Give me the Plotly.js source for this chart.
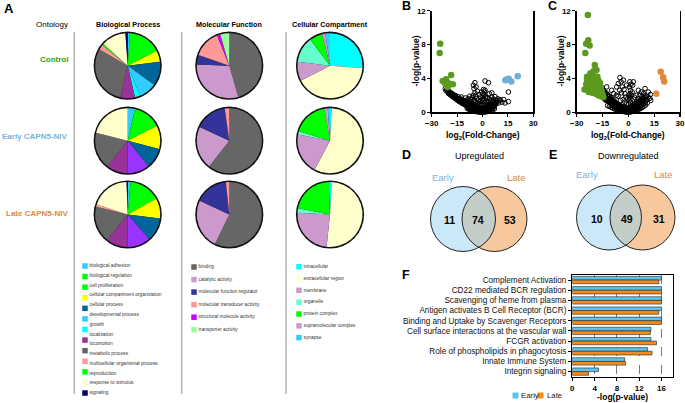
<!DOCTYPE html>
<html><head><meta charset="utf-8">
<script src="https://cdn.plot.ly/plotly-3.0.1.min.js"></script>
<style>html,body{margin:0;padding:0;background:#fff;}#chart{width:685px;height:403px;}</style>
</head><body><div id="chart"></div>
<script>
// ---------------- DATA ----------------
// Panel A: GO ontology pies (slice sizes in degrees)
const bpCategories = ['biological adhesion','biological regulation','cell proliferation','cellular compartment organization','cellular process','developmental process','growth','localization','locomotion','metabolic process','multicellular organismal process','reproduction','response to stimulus','signaling'];
const bpColors = ['#33CCFF','#00FF00','#00FF00','#FFFF00','#006699','#33CCFF','#00FFFF','#9933FF','#993399','#666666','#FF9999','#00FF00','#FFFFCC','#000066'];
const bpLegendColors = ['#33CCFF','#00FF00','#00FF00','#FFFF00','#006699','#33CCFF','#00FFFF','#993399','#666666','#FF9999','#00FF00','#FFFFCC','#000066'];
const bpControl = [4,59,0,20,43,32,9,0,26,107,9,3,44,4];
const bpEarly   = [13,50,0,42,36,0,0,39,38,66,0,0,76,0];
const bpLate    = [5,56,0,36,42,0,0,41,39,65,4,0,70,2];

const mfCategories = ['binding','catalytic activity','molecular function regulator','molecular transducer activity','structural molecule activity','transporter activity'];
const mfColors = ['#666666','#CC99CC','#333399','#FF9999','#CC00FF','#99FF99'];
const mfControl = [164,108,17,49,6,16];
const mfEarly   = [218,77,57,8,0,0];
const mfLate    = [206,89,59,6,0,0];

const ccCategories = ['intracellular','extracellular region','membrane','organelle','protein complex','supramolecular complex','synapse'];
const ccColors = ['#00FFFF','#FFFFCC','#CC99CC','#66FFCC','#00FF00','#CC99CC','#33CCFF'];
const ccControl = [94,149,34,46,23,6,8];
const ccEarly   = [3,205,73,6,63,6,4];
const ccLate    = [3,183,87,8,77,0,2];

const ontologyHeaders = ['Biological Process','Molecular Function','Cellular Compartment'];
const conditionLabels = ['Control','Early CAPN5-NIV','Late CAPN5-NIV'];

// Panel B: volcano, early (log2FC, -log p)
const volcB_down = [[-25,8.1],[-25.3,7.0],[-23.5,3.7],[-21.5,3.9],[-18.5,4.4],[-20.5,3.5],[-19.5,3.3],[-17.5,3.3],[-20.5,3.0],[-22,3.4]];
const volcB_up = [[13.5,3.8],[14.5,3.9],[15.5,3.95],[17,3.65],[20.8,4.25]];
const volcB_ns = [
[-22,2.8],[-21.5,2.55],[-21,2.7],[-20.5,2.4],[-20,2.2],[-19.5,2.35],[-19,2.05],[-18.5,2.2],[-18,1.9],[-17.5,2.0],[-17,1.75],[-16.5,1.85],[-16,1.6],[-15.5,1.7],[-15,1.45],[-14.5,1.55],[-14,1.3],[-13.5,1.4],[-13,1.2],[-12.5,1.25],[-12,1.05],[-11.5,1.15],[-11,0.95],[-10.5,1.0],[-10,0.85],[-9.5,0.9],[-9,0.75],[-8.5,0.8],[-8,0.65],[-7.5,0.7],[-7,0.55],[-6.5,0.6],[-6,0.45],[-5.5,0.5],[-5,0.38],[-4.5,0.4],[-4,0.3],[-3.5,0.32],[-3,0.22],[-2.5,0.25],[-2,0.15],[-1.5,0.18],[-1,0.1],[-0.5,0.12],[0,0.05],[0.5,0.08],[1,0.12],[1.5,0.15],[2,0.2],[2.5,0.22],[3,0.3],[3.5,0.33],[4,0.42],[4.5,0.45],[5,0.55],[5.5,0.6],[6,0.7],[6.5,0.75],[7,0.85],[7.5,0.95],[8,1.0],
[-9,0.45],[-8,0.35],[-7,0.28],[-6,0.2],[-5,0.15],[-4,0.1],[-3,0.06],[-2,0.04],[-1,0.02],[1,0.03],[2,0.06],[3,0.1],[4,0.15],[5,0.22],[6,0.3],[7,0.4],
[-10.5,1.3],[-9.5,1.15],[-8.5,1.05],[-7.5,0.95],[-6.5,0.85],[-5.5,0.75],[-4.5,0.65],[-3.5,0.55],[-2.5,0.45],[-1.5,0.35],[-0.5,0.3],[0.5,0.35],[1.5,0.45],[2.5,0.5],[3.5,0.6],[4.5,0.7],[5.5,0.85],[6.5,1.0],
[-13,1.6],[-12,1.5],[-11,1.4],[-9,1.35],[-8,1.25],[-7,1.2],[-6,1.05],[-5,0.95],[-4,0.85],[-3,0.75],[-2,0.6],[-1,0.5],[0,0.45],
[-16,2.0],[-14.5,1.85],[-12.5,1.8],[-10,1.7],[-8.5,1.6],[-7,1.5],[-6,1.75],[-5,1.4],[-4,1.25],[-3,1.1],[-2,0.95],[-1,0.85],
[-7.5,1.9],[-5.5,2.0],[-4.5,2.3],[-4,1.9],[-3.5,1.6],[-2.5,1.45],[-1.5,1.3],[-5,2.8],[-4.5,3.5],[-5.4,3.2],[-3.8,3.0],[-3,2.5],[-2,2.1],[-1.2,1.8],
[0.2,0.9],[0.5,1.3],[0.8,1.6],[1,2.0],[1.2,2.4],[0.6,2.7],[1.5,2.6],[0.3,2.2],[1.8,1.8],[1.1,1.1],[0.4,1.9],[-0.3,1.5],[-0.5,2.4],[1.4,0.8],[0.9,0.6],[2.2,1.3],[2.6,1.7],
[1.5,3.7],[3.5,3.5],
[3,0.95],[3.5,1.25],[4,1.6],[4.5,1.1],[5,1.4],[5.5,1.8],[6,1.3],[6.5,1.55],[7,1.2],[7.4,1.85],[8,1.45],[8.5,1.3],[9,1.6],[10,1.35],[10.4,1.5],[11.5,1.2],[13.3,1.1],[15.3,1.26],[15.3,2.4],[12.5,1.5],[9.5,1.1],[4,2.2],[5.5,2.3],
[-8.8,0.6],[-8.2,0.55],[-7.8,0.5],[-7.2,0.45],[-6.8,0.4],[-6.2,0.35],[-5.8,0.3],[-5.2,0.28],[-4.8,0.25],[-4.2,0.2],[-3.8,0.18],[-3.2,0.15],[-2.8,0.12],[-2.2,0.1],[-1.8,0.08],[-1.2,0.06],[-0.8,0.05],[-0.2,0.04],[0.2,0.04],[0.8,0.06],[1.2,0.08],[1.8,0.1],[2.2,0.14],[2.8,0.18],[3.2,0.22],[3.8,0.28],[4.2,0.32],[4.8,0.38],[5.2,0.45],[5.8,0.5],[6.2,0.58],[6.8,0.65],
[-9.8,0.95],[-9.2,0.85],[-8.8,0.9],[-8.2,0.8],[-7.8,0.78],[-7.2,0.7],[-6.8,0.68],[-6.2,0.62],[-5.8,0.55],[-5.2,0.5],[-4.8,0.48],[-4.2,0.42],[-3.8,0.4],[-3.2,0.35],[-2.8,0.32],[-2.2,0.28],[-1.8,0.25],[-1.2,0.22],[-0.8,0.2],[-0.2,0.18],[0.2,0.2],[0.8,0.22],[1.2,0.28],[1.8,0.3],[2.2,0.35],[2.8,0.4],[3.2,0.45],[3.8,0.5],[4.2,0.55],[4.8,0.62],[5.2,0.68],[5.8,0.75],[6.2,0.8],[6.8,0.88],
[-11.8,1.2],[-11.2,1.1],[-10.8,1.15],[-10.2,1.05],[-9.8,1.1],[-9.2,1.0],[-8.8,1.0],[-8.2,0.95],[-7.8,0.9],[-7.2,0.85],[-6.8,0.8],[-6.2,0.75],[-5.8,0.7],[-5.2,0.65],[-4.8,0.6],[-4.2,0.58],[-3.8,0.55],[-3.2,0.5],[-2.8,0.48],[-2.2,0.45],[-1.8,0.4],[-1.2,0.38],[-0.8,0.35],[-0.2,0.32],[0.2,0.38],[0.8,0.42],[1.2,0.48],[1.8,0.55],[2.2,0.6],[2.8,0.65],[3.2,0.7],[3.8,0.75],[4.2,0.8],[4.8,0.9],
[-15.8,1.75],[-15.2,1.6],[-14.8,1.65],[-14.2,1.45],[-13.8,1.5],[-13.2,1.35],[-12.8,1.4],[-12.2,1.25],[-18.8,2.3],[-18.2,2.1],[-17.8,2.2],[-17.2,1.95],[-16.8,2.0],[-16.2,1.8],[-20.8,2.6],[-20.2,2.45],[-19.8,2.5],[-19.2,2.25]];

// Panel C: volcano, late
const volcC_down = [[-23.5,11.5],[-23.3,8.5],[-24.5,8.1],[-22.5,7.9],[-25,7.0],[-19.5,5.6],[-18.5,5.0],[-21,4.5],[-22.5,4.2],[-20,4.3],[-18,4.2],[-24,3.9],[-23,3.7],[-21.5,3.8],[-20.5,3.6],[-19,3.7],[-17.5,3.8],[-16.5,3.5],[-24.5,3.3],[-23,3.2],[-22,3.4],[-21,3.1],[-20,3.2],[-19,3.0],[-18,3.3],[-17,3.1],[-16,3.0],[-25.5,2.7],[-24,2.8],[-22.5,2.7],[-21.5,2.6],[-20.5,2.8],[-19.5,2.5],[-18.5,2.6],[-17.5,2.4],[-16.5,2.3],[-15.5,2.5],[-23,2.4],[-21,2.3],[-19,2.2],[-17.5,2.0],[-16,1.9],[-15,2.1],[-14.5,1.8],[-22,4.6],[-24,4.2],[-20,4.9]];
const volcC_up = [[18.8,4.8],[20.2,4.15],[20.8,3.65],[16.2,2.2]];
const volcC_ns = [
[-16,2.9],[-15.5,2.6],[-15,2.75],[-14.5,2.4],[-14,2.5],[-13.5,2.2],[-13,2.3],[-12.5,2.0],[-12,2.1],[-11.5,1.8],[-11,1.9],[-10.5,1.6],[-10,1.7],[-9.5,1.4],[-9,1.5],[-8.5,1.2],[-8,1.3],[-7.5,1.05],[-7,1.1],[-6.5,0.9],[-6,0.95],[-5.5,0.75],[-5,0.8],[-4.5,0.6],[-4,0.65],[-3.5,0.5],[-3,0.5],[-2.5,0.35],[-2,0.38],[-1.5,0.25],[-1,0.25],[-0.5,0.15],[0,0.08],[0.5,0.12],[1,0.18],[1.5,0.25],[2,0.3],[2.5,0.38],[3,0.45],[3.5,0.5],[4,0.6],[4.5,0.65],[5,0.75],[5.5,0.8],[6,0.9],[6.5,1.0],[7,1.1],[7.5,1.2],[8,1.3],[8.5,1.4],[9,1.5],
[-12,0.8],[-11,0.7],[-10,0.6],[-9,0.5],[-8,0.4],[-7,0.32],[-6,0.25],[-5,0.2],[-4,0.15],[-3,0.1],[-2,0.06],[-1,0.03],[1,0.04],[2,0.08],[3,0.12],[4,0.2],[5,0.28],[6,0.35],[7,0.45],[8,0.55],[9,0.7],[10,0.85],
[-14,1.6],[-13,1.4],[-12,1.3],[-11,1.2],[-10,1.05],[-9,0.95],[-8,0.85],[-7,0.7],[-6,0.6],[-5,0.5],[-4,0.4],[-3,0.3],[-2,0.2],[-1,0.12],[0,0.3],[1,0.4],[2,0.55],[3,0.7],[4,0.85],[5,1.0],[6,1.2],[7,1.35],[8,1.6],[9,1.8],[10,1.3],[11,1.1],
[-15,2.0],[-13.5,1.9],[-12.5,1.6],[-11.5,1.5],[-10.5,1.35],[-9.5,1.2],[-8.5,1.1],[-7.5,0.95],[-6.5,0.8],[-5.5,0.65],[-4.5,0.55],[-3.5,0.45],[-2.5,0.6],[-1.5,0.5],[-0.5,0.45],[0.5,0.55],[1.5,0.7],[2.5,0.85],[3.5,1.0],
[-12.6,3.0],[-9.7,2.6],[-8.5,2.2],[-7,2.0],[-6.8,3.0],[-5.8,3.4],[-4.9,4.1],[-4.2,3.6],[-2.9,3.8],[-3.5,3.0],[-5,2.6],[-4,2.3],[-2.5,2.7],[-2,2.2],[-1.5,1.8],[-1,3.2],[-6,1.9],[-3,1.5],[-2,1.2],[-1,1.0],[-4.5,1.4],
[0.2,1.0],[0.5,1.4],[0.8,1.8],[1,2.2],[1.2,2.6],[0.6,3.0],[1.4,3.3],[0.9,3.6],[0.3,2.0],[1.6,1.6],[1.1,1.2],[-0.3,1.6],[2.9,3.6],[2.5,3.2],[2.2,2.4],[1.8,2.0],
[4.8,1.3],[5.8,2.6],[6.8,2.0],[8.7,2.2],[9.7,2.8],[10.6,1.85],[11.6,2.4],[12.5,1.65],[3.5,1.8],[4.5,2.0],[7.5,2.4],[6,1.6],[13,1.4],[11,1.5],[9.5,1.1],[5.5,1.3],[8,1.9],
[-9.8,0.85],[-9.2,0.8],[-8.8,0.75],[-8.2,0.7],[-7.8,0.62],[-7.2,0.58],[-6.8,0.52],[-6.2,0.45],[-5.8,0.4],[-5.2,0.36],[-4.8,0.32],[-4.2,0.28],[-3.8,0.24],[-3.2,0.2],[-2.8,0.16],[-2.2,0.12],[-1.8,0.1],[-1.2,0.08],[-0.8,0.06],[-0.2,0.05],[0.2,0.05],[0.8,0.08],[1.2,0.1],[1.8,0.14],[2.2,0.18],[2.8,0.22],[3.2,0.26],[3.8,0.3],[4.2,0.36],[4.8,0.42],[5.2,0.48],[5.8,0.55],[6.2,0.62],[6.8,0.68],[7.2,0.75],[7.8,0.82],[8.2,0.9],
[-12.8,1.5],[-12.2,1.4],[-11.8,1.35],[-11.2,1.3],[-10.8,1.2],[-10.2,1.15],[-9.8,1.1],[-9.2,1.05],[-8.8,1.0],[-8.2,0.95],[-7.8,0.88],[-7.2,0.82],[-6.8,0.78],[-6.2,0.72],[-5.8,0.66],[-5.2,0.6],[-4.8,0.56],[-4.2,0.5],[-3.8,0.46],[-3.2,0.42],[-2.8,0.38],[-2.2,0.34],[-1.8,0.3],[-1.2,0.28],[-0.8,0.26],[-0.2,0.22],[0.2,0.25],[0.8,0.3],[1.2,0.35],[1.8,0.42],[2.2,0.48],[2.8,0.55],[3.2,0.6],[3.8,0.66],[4.2,0.72],[4.8,0.8],[5.2,0.86],[5.8,0.95],[6.2,1.02],[6.8,1.1],
[-16.8,2.8],[-16.2,2.6],[-15.8,2.45],[-15.2,2.3],[-14.8,2.15],[-14.2,2.0],[-13.8,1.9],[-13.2,1.75],[-12.8,1.7],[-12.2,1.6],[-11.8,1.55],[-11.2,1.5],[-10.8,1.4],[-10.2,1.35],[-17.5,2.6],[-16.5,2.4],[-15.5,2.2],[-14.5,2.1],[-13.5,1.8],[-11,1.6],[-9,1.3],[-7,1.0],[-5,0.85],[-3,0.65],[-1,0.5],[1,0.55],[3,0.85],[5,1.15],[7,1.45],[8.5,1.7],[10,1.95],[11.5,1.8],[12.8,2.1]];

const volcXTicks = [-30,-15,0,15,30];
const volcYTicks = [0,4,8,12];

// Panels D/E: Venn counts [early only, both, late only]
const vennUp = [11,74,53];
const vennDown = [10,49,31];

// Panel F: pathway enrichment
const pathways = ['Complement Activation','CD22 mediated BCR regulation','Scavenging of heme from plasma','Antigen activates B Cell Receptor (BCR)','Binding and Uptake by Scavenger Receptors','Cell surface interactions at the vascular wall','FCGR activation','Role of phospholipids in phagocytosis','Innate Immune System','Integrin signaling'];
const earlyLogP = [16,16,16,16,16,14.1,14.1,13.5,9.4,4.7];
const lateLogP  = [15.5,16,16,15.5,16,14,15.1,14.3,9.55,2.9];
const pathwayTicks = [0,4,8,12,16];

// ---------------- LAYOUT HELPERS ----------------
const W = 685, H = 403;
const FONT = 'Liberation Sans, Arial, sans-serif';
const px = x => x / W;
const py = y => 1 - y / H;

const traces = [];
const annotations = [];
const shapes = [];

// ---- Panel A pies ----
const pieCols = [127.7, 229.3, 330];
const pieRows = [65.7, 140.7, 214.5];
const R = 32.5;
const pieSets = [
  [bpControl, bpEarly, bpLate, bpColors, bpCategories],
  [mfControl, mfEarly, mfLate, mfColors, mfCategories],
  [ccControl, ccEarly, ccLate, ccColors, ccCategories]
];
function dom(cx, cy, r){ return {x:[px(cx-r), px(cx+r)], y:[py(cy+r), py(cy-r)]}; }
pieSets.forEach((set, c) => {
  for (let r = 0; r < 3; r++) {
    traces.push({type:'pie', values:[1], labels:['ring'], marker:{colors:['#111'], line:{width:0}},
      domain: dom(pieCols[c], pieRows[r], R+1.6), textinfo:'none', hoverinfo:'skip', showlegend:false, sort:false});
    traces.push({type:'pie', values:set[r], labels:set[4], marker:{colors:set[3], line:{width:0}},
      domain: dom(pieCols[c], pieRows[r], R), textinfo:'none', hoverinfo:'skip', showlegend:false,
      sort:false, direction:'clockwise', rotation:0});
  }
});

function txt(x, y, text, size, opts){
  annotations.push(Object.assign({xref:'x4', yref:'y4', x, y, text, showarrow:false,
    font:{family:FONT, size, color:'#000'}, xanchor:'center', yanchor:'middle'}, opts||{}));
}
txt(9, 8, '<b>A</b>', 13);
txt(70, 24, 'Ontology', 8, {xanchor:'right'});
ontologyHeaders.forEach((h,i)=> txt(pieCols[i], 24, '<b>'+h+'</b>', 7.2));
const condColors = ['#1DA51D','#78B3DA','#D88A3E'];
conditionLabels.forEach((l,i)=> txt(70, [59,136,213][i], '<b>'+l+'</b>', 8, {xanchor:'right', font:{family:FONT,size:8,color:condColors[i]}}));
[74.3, 181.7, 286].forEach(x => shapes.push({type:'line', xref:'x4', yref:'y4', x0:x, x1:x, y0:32, y1:394, line:{color:'#B5B5B5', width:1.5}}));

// Panel A legends
function legendBlock(cats, colors, sqX, y0, textStep, sqStep){
  traces.push({type:'scatter', mode:'markers', xaxis:'x4', yaxis:'y4', hoverinfo:'skip', showlegend:false,
    x: colors.map(()=>sqX), y: colors.map((_,i)=> y0 + i*sqStep),
    marker:{symbol:'square', size:5.5, color:colors, line:{width:0}}});
  traces.push({type:'scatter', mode:'text', xaxis:'x4', yaxis:'y4', hoverinfo:'skip', showlegend:false,
    x: cats.map(()=>sqX+4.5), y: cats.map((_,i)=> y0 + i*textStep), text: cats,
    textposition:'middle right', textfont:{family:FONT, size:4.8, color:'#333'}});
}
legendBlock(bpCategories, bpLegendColors, 85, 266, 9.77, 9.77*13/12);
legendBlock(mfCategories, mfColors, 194, 267, 12.55, 12.55);
legendBlock(ccCategories, ccColors, 299, 266.7, 11.83, 11.83);

// ---- Panels B, C volcano ----
const axisLine = {showline:true, linecolor:'#000', linewidth:1.3, ticks:'outside', ticklen:3, tickwidth:1.1, tickcolor:'#000',
  showgrid:false, zeroline:false, tickfont:{family:FONT, size:8, color:'#000', weight:'bold'}, fixedrange:true};
function volcano(xa, ya, ns, down, up, upColor){
  traces.push({type:'scatter', mode:'markers', xaxis:xa, yaxis:ya, hoverinfo:'skip', showlegend:false,
    x: ns.map(p=>p[0]), y: ns.map(p=>p[1]), cliponaxis:false,
    marker:{symbol:'circle-open', size:4.6, color:'#000', line:{color:'#000', width:1.0}}});
  traces.push({type:'scatter', mode:'markers', xaxis:xa, yaxis:ya, hoverinfo:'skip', showlegend:false,
    x: down.map(p=>p[0]), y: down.map(p=>p[1]), marker:{size:6.5, color:'#5C9A1F', line:{width:0}}});
  traces.push({type:'scatter', mode:'markers', xaxis:xa, yaxis:ya, hoverinfo:'skip', showlegend:false,
    x: up.map(p=>p[0]), y: up.map(p=>p[1]), marker:{size:6.5, color:upColor, line:{width:0}}});
}
volcano('x','y', volcB_ns, volcB_down, volcB_up, '#6EADD6');
volcano('x2','y2', volcC_ns, volcC_down, volcC_up, '#E08838');

txt(406.7, 6, '<b>B</b>', 12.5);
txt(552.3, 6, '<b>C</b>', 12.5);
txt(415, 61.5, '<b>-log(p-value)</b>', 8.5, {textangle:-90});
txt(560, 61.5, '<b>-log(p-value)</b>', 8.5, {textangle:-90});
txt(482.5, 135, '<b>log<sub>2</sub>(Fold-Change)</b>', 8.5);
txt(628.4, 135, '<b>log<sub>2</sub>(Fold-Change)</b>', 8.5);

// ---- Panels D, E Venn ----
function venn(letter, cE, cL, cy, r, counts, title, letterX, titleX, earlyLbl, lateLbl, numX){
  shapes.push({type:'circle', xref:'x4', yref:'y4', x0:cE-r, x1:cE+r, y0:cy-r, y1:cy+r, fillcolor:'#CBE8F8', line:{width:0}});
  shapes.push({type:'circle', xref:'x4', yref:'y4', x0:cL-r, x1:cL+r, y0:cy-r, y1:cy+r, fillcolor:'#F7C89E', line:{width:0}});
  const xi = (cE + cL)/2, a = Math.acos((xi - cE)/r);
  const pts = [];
  for (let k=0;k<=40;k++){ const t = -a + 2*a*k/40; pts.push([cE + r*Math.cos(t), cy + r*Math.sin(t)]); }
  for (let k=0;k<=40;k++){ const t = Math.PI - a + 2*a*k/40; pts.push([cL + r*Math.cos(t), cy + r*Math.sin(t)]); }
  shapes.push({type:'path', xref:'x4', yref:'y4', path:'M'+pts.map(p=>p[0].toFixed(2)+','+p[1].toFixed(2)).join('L')+'Z', fillcolor:'#C3CEC8', line:{width:0}});
  shapes.push({type:'circle', xref:'x4', yref:'y4', x0:cE-r, x1:cE+r, y0:cy-r, y1:cy+r, line:{color:'#222', width:1}});
  shapes.push({type:'circle', xref:'x4', yref:'y4', x0:cL-r, x1:cL+r, y0:cy-r, y1:cy+r, line:{color:'#222', width:1}});
  counts.forEach((v,i)=> txt(numX[i], cy+1, '<b>'+v+'</b>', 10.5));
  txt(letterX, 155, '<b>'+letter+'</b>', 12.5);
  txt(titleX, 156, title, 9);
  txt(earlyLbl[0], earlyLbl[1], 'Early', 9.5, {font:{family:FONT,size:9.5,color:'#7DB5DA'}});
  txt(lateLbl[0], lateLbl[1], 'Late', 9.5, {font:{family:FONT,size:9.5,color:'#D98B45'}});
}
venn('D', 463, 494.5, 219, 32.5, vennUp, 'Upregulated', 406, 479, [442.7,177], [516.7,177], [449, 477.7, 509.7]);
venn('E', 609, 642.5, 217.5, 32.5, vennDown, 'Downregulated', 552.7, 628, [586.7,174.5], [663.3,174.5], [596.7, 626.5, 658.7]);

// ---- Panel F bars ----
const earlyColor = '#5CC4EE', lateColor = '#F28C1E';
traces.push({type:'bar', orientation:'h', xaxis:'x3', yaxis:'y3', y:pathways, x:earlyLogP, name:'Early',
  marker:{color:earlyColor, line:{color:'#222', width:0.6}}, hoverinfo:'skip', showlegend:false});
traces.push({type:'bar', orientation:'h', xaxis:'x3', yaxis:'y3', y:pathways, x:lateLogP, name:'Late',
  marker:{color:lateColor, line:{color:'#222', width:0.6}}, hoverinfo:'skip', showlegend:false});
txt(406, 275, '<b>F</b>', 12.5);
txt(622, 397, '<b>-log(p-value)</b>', 8.5);
traces.push({type:'scatter', mode:'markers', xaxis:'x4', yaxis:'y4', hoverinfo:'skip', showlegend:false,
  x:[515.5, 540.5], y:[395.5, 395.5],
  marker:{symbol:'square', size:6, color:[earlyColor, lateColor], line:{width:0}}});
txt(519, 395.5, 'Early', 7.8, {xanchor:'left', font:{family:FONT,size:7.8,color:'#222'}});
txt(545, 395.5, 'Late', 7.8, {xanchor:'left', font:{family:FONT,size:7.8,color:'#222'}});

const layout = {
  width: W, height: H, margin:{l:0,r:0,t:0,b:0}, paper_bgcolor:'#fff', plot_bgcolor:'rgba(0,0,0,0)',
  showlegend:false, barmode:'group', bargap:0.28, bargroupgap:0,
  font:{family:FONT, color:'#000'},
  xaxis: Object.assign({}, axisLine, {domain:[px(431.7), px(533.3)], range:[-30,30], tickvals:volcXTicks, anchor:'y'}),
  yaxis: Object.assign({}, axisLine, {domain:[py(112.3), py(10.7)], range:[0,12], tickvals:volcYTicks, anchor:'x', mirror:true}),
  xaxis2: Object.assign({}, axisLine, {domain:[px(576.7), px(680)], range:[-30,30], tickvals:volcXTicks, anchor:'y2'}),
  yaxis2: Object.assign({}, axisLine, {domain:[py(112.3), py(10.7)], range:[0,12], tickvals:volcYTicks, anchor:'x2', mirror:true}),
  xaxis3: Object.assign({}, axisLine, {domain:[px(572.3), px(672.7)], range:[0,18], tickvals:pathwayTicks, anchor:'y3', mirror:true,
    showgrid:true, gridcolor:'#444', griddash:'dash', gridwidth:0.7}),
  yaxis3: Object.assign({}, axisLine, {domain:[py(376.7), py(275)], type:'category', autorange:'reversed', anchor:'x3', mirror:true,
    tickfont:{family:FONT, size:8.2, color:'#111'}}),
  xaxis4: {domain:[0,1], range:[0,W], visible:false, fixedrange:true, anchor:'y4'},
  yaxis4: {domain:[0,1], range:[H,0], visible:false, fixedrange:true, anchor:'x4'},
  annotations, shapes
};
Plotly.newPlot('chart', traces, layout, {staticPlot:true, displayModeBar:false});
</script></body></html>
